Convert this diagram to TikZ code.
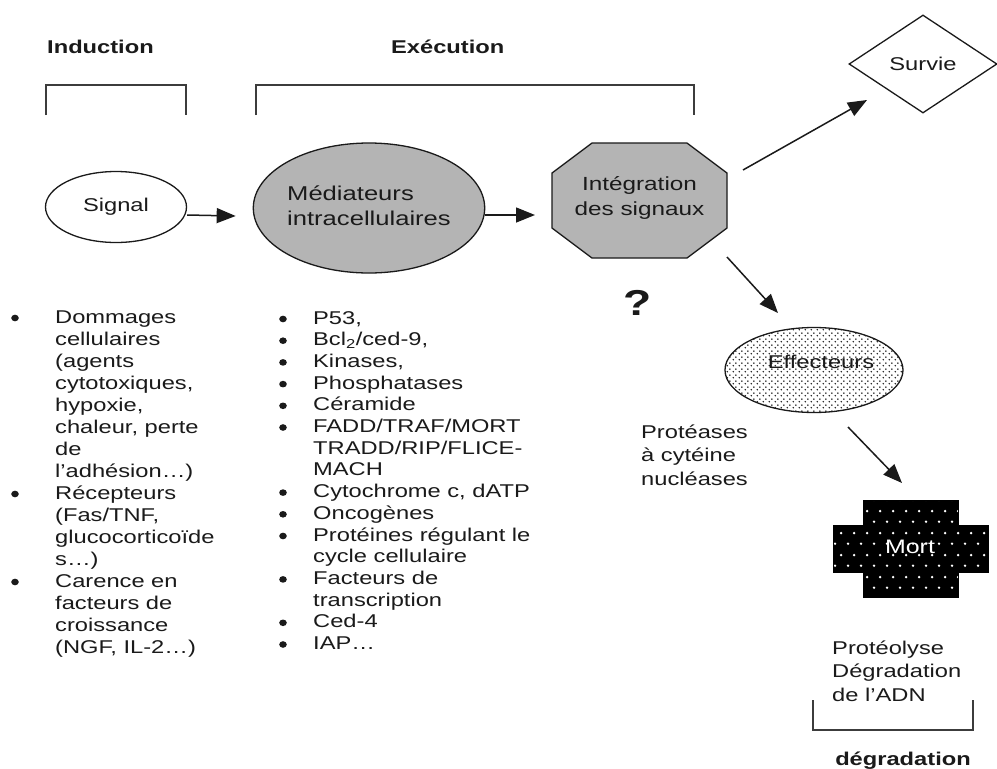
\documentclass[tikz,border=0pt]{standalone}
\usepackage{fontspec}
\setmainfont{Liberation Sans}[FakeStretch=1.28]
\usetikzlibrary{shapes.geometric,arrows.meta,patterns.meta}
\definecolor{ink}{HTML}{1A1A1A}
\definecolor{midgray}{HTML}{B4B4B4}
\tikzdeclarepattern{
  name=effdots,
  type=uncolored,
  bounding box={(0pt,0pt) and (6pt,6pt)},
  tile size={(6pt,6pt)},
  code={\fill (1.5pt,1.5pt) circle (0.95pt); \fill (4.5pt,4.5pt) circle (0.95pt);}
}
\tikzdeclarepattern{
  name=mortdots,
  type=uncolored,
  bounding box={(0pt,0pt) and (13pt,22pt)},
  tile size={(13pt,22pt)},
  code={\fill (3.25pt,5.5pt) circle (1.4pt); \fill (9.75pt,16.5pt) circle (1.4pt);}
}
\newcommand\stackl[1]{\begin{tabular}[t]{@{}l@{}}#1\end{tabular}}
\begin{document}
\begin{tikzpicture}[x=1pt,y=-1pt,
  lbl/.style={font=\fontsize{18.5}{23.5}\selectfont, text=ink, inner sep=0pt},
  head/.style={font=\fontsize{18.5}{23.5}\selectfont\bfseries, text=ink, inner sep=0pt, anchor=base west},
  arr/.style={draw=ink, line width=1.5pt, -{Triangle[length=19pt,width=15pt]}},
  brk/.style={draw=ink!85, line width=1.4pt},
  shapeline/.style={draw=ink, line width=1.3pt},
  bullet/.style={fill=ink}]
\useasboundingbox[fill=white] (0,0) rectangle (997,769);

% headings and brackets
\node[head] (hind) at (47,53) {Induction};
\node[head] (hexe) at (391,53) {Exécution};
\draw[brk] (46,115) -- (46,85) -- (186,85) -- (186,115);
\draw[brk] (256,115) -- (256,85) -- (694,85) -- (694,115);

% Signal
\node[lbl, ellipse, shapeline, fill=white, minimum width=141pt, minimum height=71pt] (sig) at (116,207) {Signal};

% Mediateurs
\node[lbl, ellipse, shapeline, fill=midgray, minimum width=228pt, minimum height=130pt,
  font=\fontsize{20}{25}\selectfont] (med) at (369,208) {\stackl{Médiateurs\\intracellulaires}};

% Octagon
\draw[shapeline, fill=midgray] (592,143) -- (687,143) -- (727,173) -- (727,228) -- (687,258)
  -- (592,258) -- (552,228) -- (552,173) -- cycle;
\node[lbl, align=center, font=\fontsize{19}{25}\selectfont] (oct) at (639.5,198) {Intégration\\des signaux};
\coordinate (octw) at (552,215);

% question mark
\node[lbl, font=\fontsize{36}{36}\selectfont\bfseries] (q) at (638,303) {?};

% Survie
\node[lbl, diamond, shapeline, fill=white, minimum width=148pt, minimum height=98pt, aspect=1.5] (sur) at (923,64) {Survie};

% Effecteurs
\node[lbl, ellipse, shapeline, preaction={fill=white}, pattern=effdots, pattern color=ink,
  minimum width=178pt, minimum height=85pt] (eff) at (814,370) {};
\node[lbl] (efftxt) at (821,362) {Effecteurs};

% Mort
\draw[draw=black, line width=1pt, preaction={fill=black}, pattern=mortdots, pattern color=white]
  (863,500) -- (958,500) -- (958,525) -- (988,525) -- (988,572) -- (958,572) -- (958,597)
  -- (863,597) -- (863,572) -- (833,572) -- (833,525) -- (863,525) -- cycle;
\node[lbl, text=white, font=\fontsize{19.5}{23}\selectfont] (mort) at (910,547) {Mort};

% arrows
\draw[arr] ([yshift=-8pt]sig.east) -- ([yshift=-8pt,xshift=-17pt]med.west);
\draw[arr] ([yshift=-7pt]med.east) -- ([xshift=-17pt]octw);
\coordinate (a1s) at (743,170);
\coordinate (a1e) at (867,100);
\draw[arr] (a1s) -- (a1e);
\coordinate (a2s) at (727,257);
\coordinate (a2e) at (778,313);
\draw[arr] (a2s) -- (a2e);
\coordinate (a3s) at (848,427);
\coordinate (a3e) at (902,483);
\draw[arr] (a3s) -- (a3e);

% side texts
\node[lbl, anchor=base west] (prot) at (641,438) {\stackl{Protéases\\à cytéine\\nucléases}};
\node[lbl, anchor=base west] (proteo) at (832,654) {\stackl{Protéolyse\\Dégradation\\de l’ADN}};
\draw[brk] (813,700) -- (813,730) -- (973,730) -- (973,700);
\node[head, anchor=base] (degr) at (903,765) {dégradation};

% bullets
\foreach \i in {0,8,12} \fill[bullet] (15,318+22*\i) ellipse (3.8pt and 3.3pt);
\foreach \i in {0,1,2,3,4,5,8,9,10,12,14,15} \fill[bullet] (283,319+21.7*\i) ellipse (3.8pt and 3.3pt);

% left list
\node[lbl, anchor=base west, font=\fontsize{18.5}{22}\selectfont] (list1) at (55,323) {%
\stackl{Dommages\\
cellulaires\\
(agents\\
cytotoxiques,\\
hypoxie,\\
chaleur, perte\\
de\\
l’adhésion…)\\
Récepteurs\\
(Fas/TNF,\\
glucocorticoïde\\
s…)\\
Carence en\\
facteurs de\\
croissance\\
(NGF, IL-2…)}};

% middle list
\node[lbl, anchor=base west, font=\fontsize{18.5}{21.7}\selectfont] (list2) at (313,324) {%
\stackl{P53,\\
Bcl\textsubscript{2}/ced-9,\\
Kinases,\\
Phosphatases\\
Céramide\\
FADD/TRAF/MORT\\
TRADD/RIP/FLICE-\\
MACH\\
Cytochrome c, dATP\\
Oncogènes\\
Protéines régulant le\\
cycle cellulaire\\
Facteurs de\\
transcription\\
Ced-4\\
IAP…}};
\end{tikzpicture}
\end{document}
